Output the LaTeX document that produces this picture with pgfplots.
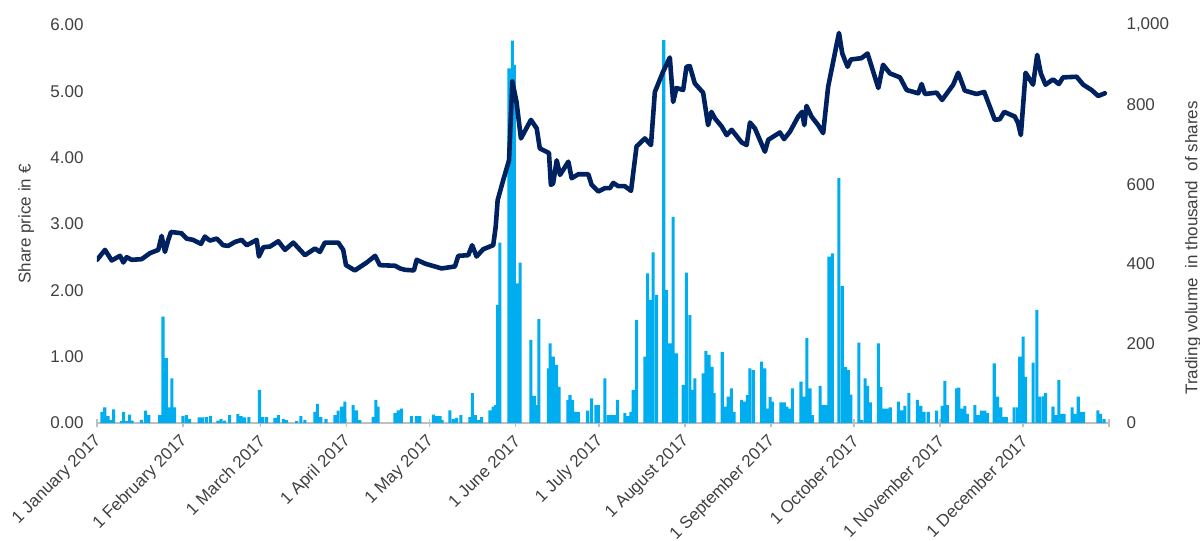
\documentclass[border=0pt]{standalone}
\usepackage{fontspec}
\setmainfont{Liberation Sans}
\usepackage{pgfplots}
\pgfplotsset{compat=1.18}
\usepackage{pgfplotstable}
\definecolor{barblue}{RGB}{0,174,239}
\definecolor{navy}{RGB}{0,33,96}
\definecolor{txt}{RGB}{64,64,64}
\definecolor{axgray}{RGB}{191,191,191}

\pgfplotstableread{
day price
0 2.46
2.9 2.61
5.3 2.45
8.3 2.52
9.5 2.42
10.7 2.50
12.5 2.46
16.1 2.47
19.1 2.56
22.1 2.61
23.3 2.82
24.5 2.58
25.7 2.76
26.7 2.88
30.5 2.86
32.3 2.78
34.7 2.76
37.5 2.70
38.9 2.81
40.7 2.75
43.2 2.78
45.5 2.68
47.3 2.67
49.8 2.73
52.2 2.76
54 2.68
57.6 2.76
58.4 2.51
60 2.65
62.4 2.66
65.4 2.74
67.8 2.61
70.8 2.72
75 2.53
78.6 2.63
80.4 2.58
82.2 2.72
87 2.72
88.8 2.61
89.8 2.38
93 2.30
97.3 2.42
100.3 2.52
102 2.38
107.5 2.37
109.3 2.33
111 2.31
114.3 2.30
115.3 2.46
118.5 2.40
124.3 2.33
129.1 2.36
130.3 2.52
133.9 2.53
135.3 2.68
136.9 2.51
139.3 2.62
142.9 2.68
143.8 2.96
144.5 3.36
146.5 3.66
148.6 3.96
149.8 5.15
151.3 4.84
152.9 4.29
156.5 4.57
158.6 4.44
159.7 4.14
163 4.07
163.7 3.59
164.5 3.61
165.8 3.96
167 3.74
170 3.94
171.2 3.69
173.6 3.75
177.2 3.75
178.4 3.59
180.8 3.49
183.2 3.54
185 3.54
186.2 3.62
188 3.57
190.4 3.57
192.6 3.50
194.6 4.17
197.6 4.29
199.8 4.19
201.2 4.99
204.2 5.30
206.6 5.51
207.8 4.84
209 5.05
211.4 5.02
212.6 5.37
213.8 5.38
215.6 5.12
218.6 4.98
220.4 4.49
221.6 4.69
222.9 4.59
225.3 4.47
227.1 4.34
228.9 4.42
232.5 4.23
234.3 4.19
235.5 4.53
237.3 4.44
240.9 4.09
242.1 4.27
246.3 4.38
247.8 4.28
249.9 4.39
252.9 4.62
254.3 4.69
255.1 4.49
255.9 4.78
257.7 4.62
260.1 4.49
261.9 4.37
263.7 5.07
266.1 5.57
267.6 5.88
268.8 5.57
270.7 5.37
271.9 5.48
275.7 5.50
277.9 5.57
281.8 5.05
283.5 5.40
286 5.27
289.6 5.21
292 5.02
296.2 4.97
297.4 5.11
298.6 4.96
302.8 4.98
304.8 4.87
308.8 5.10
310.6 5.28
313 5.01
317.2 4.96
320 4.99
322 4.77
323.8 4.57
325.6 4.58
327.2 4.69
331 4.62
332.2 4.52
333.2 4.34
334.9 5.28
337.6 5.10
339.1 5.55
340.4 5.27
342.1 5.10
344.8 5.18
346.9 5.11
348.4 5.21
353.3 5.22
355.7 5.10
358.7 5.02
361.1 4.93
363.5 4.97
}\pricedata

\pgfplotstableread{
day vol
1.8 28
2.8 39
4 18
5.2 7
6 34
8.8 5
9.6 28
10.6 5
11.8 21
12.7 6
16 8
17.5 31
18.7 20
22.6 20
23.8 267
25 163
26 39
27 112
28 39
31 18
32.2 20
33.4 10
36.8 14
38 14
39.4 15
40.9 18
43.6 6
44.8 10
46 6
47.8 20
50.8 22
52 17
53.2 14
54.8 15
58.6 83
59.8 15
61.2 15
64.2 13
65.4 20
67.2 10
68.4 7
72 5
73.5 17
75 7
78.6 28
79.5 48
80.7 15
82.6 10
85.8 20
87 31
88.2 41
89.4 54
92.4 45
93.6 32
94.8 7
99.6 15
100.6 58
101.4 41
107.4 25
108.6 32
109.8 36
113.4 17
115.2 17
116.4 17
121.3 21
122.5 17
123.7 17
124.5 7
127.3 32
128.5 10
129.7 13
131.2 20
134.5 15
135.4 75
136.5 20
137.5 7
138.7 15
141.7 32
142.9 41
143.8 45
144.5 297
145.3 453
148.6 891
149.8 961
150.5 900
151.5 351
152.6 403
156.5 209
157.7 68
158.6 45
159.4 261
162.8 137
163.4 200
164.6 167
165.8 146
166.7 91
169.8 58
170.6 70
171.5 58
172.4 28
173.6 28
177 31
178.4 62
179.9 45
180.8 45
183.2 112
184.4 20
185.6 20
186.8 20
187.8 58
190.4 25
191.6 17
192.6 28
193.4 83
194.6 259
197.6 167
198.6 376
199.4 309
200.6 429
201.8 322
204.4 962
205.4 334
206.6 200
207.8 518
209 175
211.4 95
212.6 378
213.8 271
214.7 83
215.6 112
218.6 125
219.6 181
220.8 171
221.8 141
222.6 75
225.5 179
226.4 41
227.6 66
228.8 87
229.8 28
232.5 58
233.7 54
234.6 70
235.5 137
236.7 133
239.7 154
240.9 137
241.9 36
242.8 65
243.6 54
246.7 52
247.9 52
248.8 41
249.6 36
250.8 87
253.9 104
255.1 66
256 213
257.2 87
258 20
260.8 93
262 45
263.2 45
264 418
265.2 426
267.6 615
268.8 344
270 141
271 133
271.9 71
274.8 202
275.8 7
277 112
277.9 93
278.9 52
281.8 200
282.7 91
283.9 36
285.1 36
286.1 39
289 54
290.2 32
291.4 43
292.8 75
295.9 58
297.1 43
298.3 28
299.8 28
302.8 31
304.8 43
305.8 106
306.7 45
310 87
310.8 89
311.8 36
313 43
313.9 23
316.6 45
317.8 20
319 31
320.2 31
321.2 25
323.6 150
324.8 66
326 39
327.2 15
328 15
330.8 39
332 39
332.8 167
334 217
334.9 116
337.6 152
339 284
340 66
341.2 67
342.1 75
344.8 41
346 20
346.9 108
347.9 23
348.8 23
351.7 39
352.7 23
353.9 66
354.8 28
355.8 28
361 32
362 23
363.2 10
}\voldata

\newcommand{\fs}{\fontsize{17bp}{20bp}\selectfont}

\begin{document}
\begin{tikzpicture}
\useasboundingbox (-97bp,-118bp) rectangle (1103bp,423bp);
\begin{axis}[
  scale only axis, width=1012bp, height=398bp,
  xmin=0, xmax=365, ymin=0, ymax=1000,
  axis y line*=right, axis x line*=bottom,
  x axis line style={axgray, line width=1.5bp, -},
  y axis line style={draw=none},
  xtick={0,31,59,90,120,151,181,212,243,273,304,334,365},
  xticklabels={1 January 2017,1 February 2017,1 March 2017,1 April 2017,1 May 2017,1 June 2017,1 July 2017,1 August 2017,1 September 2017,1 October 2017,1 November 2017,1 December 2017,{}},
  xticklabel style={xshift=4bp, yshift=-9bp, rotate=45, anchor=east, font=\fs, text=txt},
  tick align=center, major tick length=8bp,
  xtick style={axgray, line width=1.5bp},
  ytick={0,200,400,600,800,1000}, ytick style={draw=none},
  yticklabel style={font=\fs, text=txt, xshift=10bp, /pgf/number format/1000 sep={,}},
  /pgf/number format/assume math mode=true,
  ylabel={Trading volume\ \ in thousand\ \ of shares},
  every axis y label/.style={at={(axis description cs:1.083,0.44)}, rotate=90, anchor=center, font=\fs, text=txt},
  clip=false,
]
\addplot[ybar, bar width=1.1, fill=barblue, draw=none] table[x=day,y=vol]{\voldata};
\end{axis}
\begin{axis}[
  scale only axis, width=1012bp, height=398bp,
  xmin=0, xmax=365, ymin=0, ymax=6,
  axis x line=none, axis y line*=left,
  y axis line style={draw=none},
  ytick={0,1,2,3,4,5,6}, ytick style={draw=none},
  yticklabel style={font=\fs, text=txt, xshift=-10bp, /pgf/number format/fixed, /pgf/number format/fixed zerofill, /pgf/number format/precision=2},
  /pgf/number format/assume math mode=true,
  ylabel={Share price in €},
  every axis y label/.style={at={(axis description cs:-0.07,0.5)}, rotate=90, anchor=center, font=\fs, text=txt},
]
\addplot[navy, line width=4.6bp, line join=round, line cap=round] table[x=day,y=price]{\pricedata};
\end{axis}
\end{tikzpicture}
\end{document}
